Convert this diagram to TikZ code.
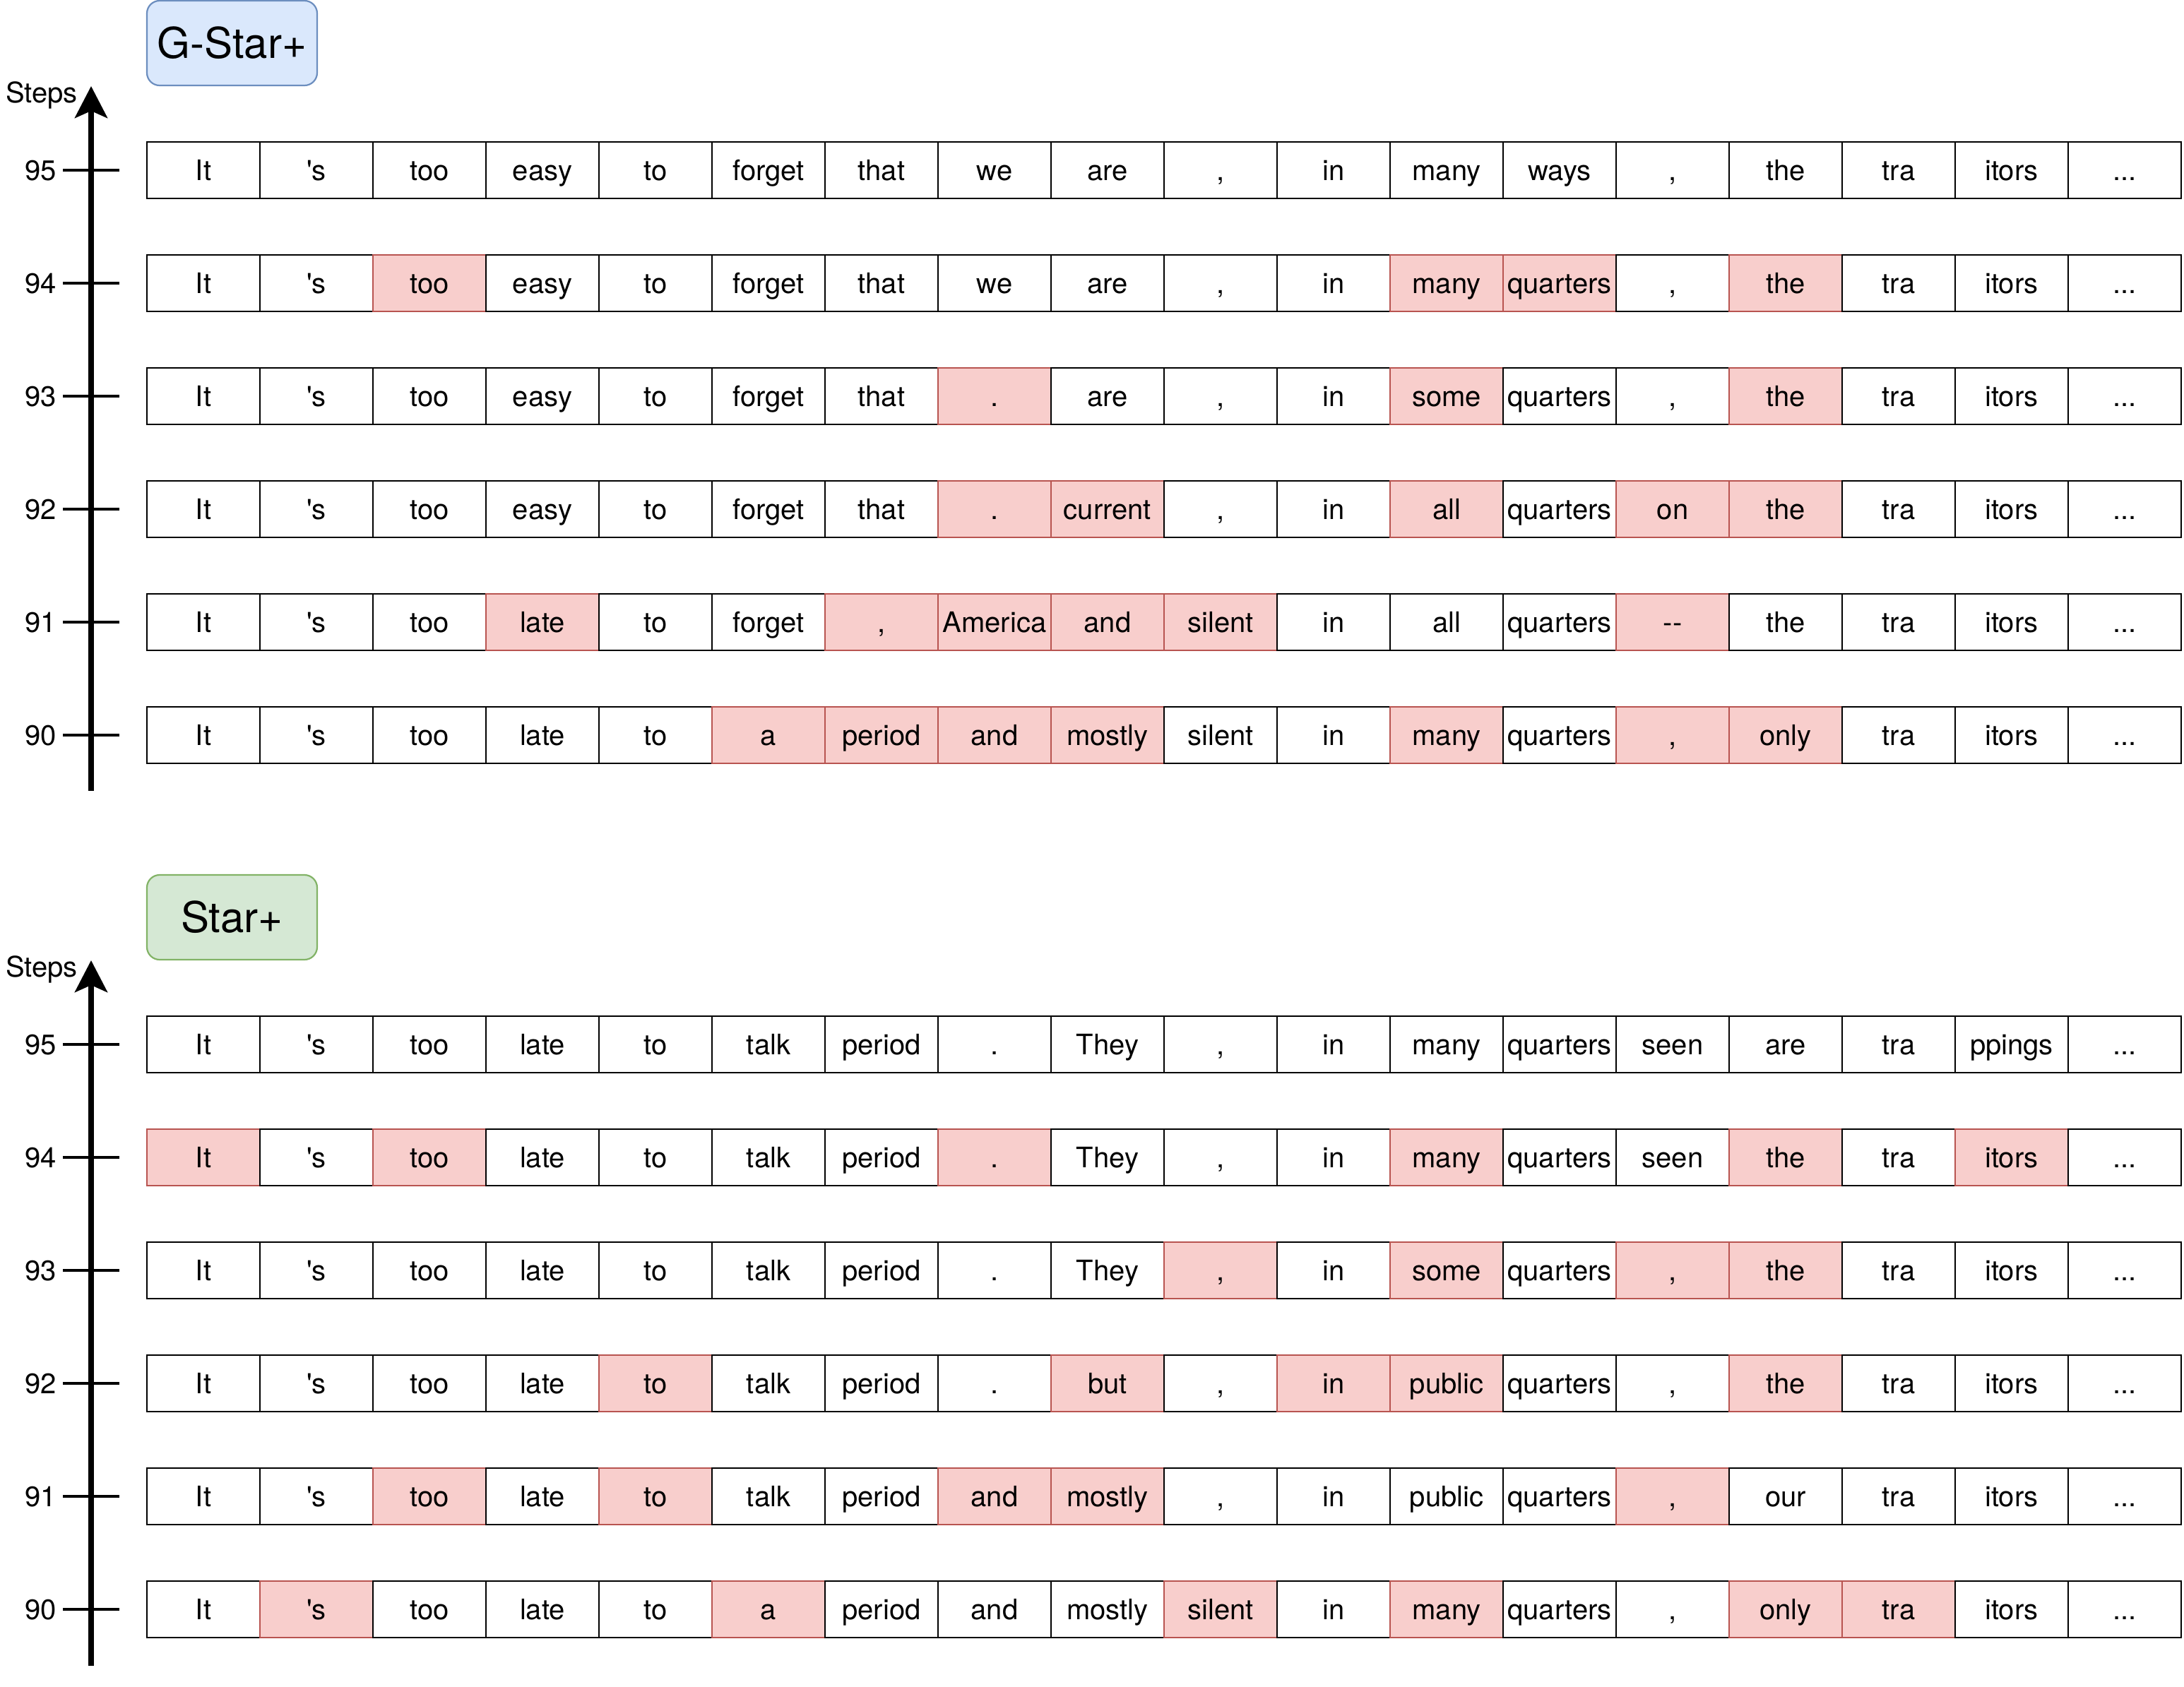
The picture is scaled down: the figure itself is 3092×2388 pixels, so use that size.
\documentclass[tikz,border=0pt]{standalone}
\usepackage{fontspec}
\setmainfont{TeX Gyre Heros}
\usetikzlibrary{arrows.meta}
\definecolor{rfill}{HTML}{F8CECC}
\definecolor{rline}{HTML}{B85450}
\definecolor{bfill}{HTML}{DAE8FC}
\definecolor{bline}{HTML}{6C8EBF}
\definecolor{gfill}{HTML}{D5E8D4}
\definecolor{gline}{HTML}{82B366}
\newcommand{\qs}{\textquotesingle s}
\newcommand{\tdots}{...}
\newcommand{\dblhy}{-{}-}
\tikzset{
  tokcell/.style={minimum width=160pt, minimum height=80pt, inner sep=0pt,
    text height=29pt, text depth=0pt, line width=2.2pt,
    font=\fontsize{40}{48}\selectfont},
  numlab/.style={anchor=east, inner sep=0pt, text height=29pt, text depth=0pt,
    font=\fontsize{40}{48}\selectfont},
  steplab/.style={anchor=base west, inner sep=0pt, font=\fontsize{40}{48}\selectfont},
  titlebox/.style={minimum width=241pt, minimum height=120pt, inner sep=0pt,
    rounded corners=18pt, line width=2.2pt, text height=43pt, text depth=0pt,
    font=\fontsize{60}{72}\selectfont},
  tick/.style={line width=4pt},
  axis/.style={line width=7.5pt, -{Stealth[length=45pt, width=46pt, inset=10pt]}},
}
\newcommand{\tokrow}[3]{%
  \foreach \k/\w [count=\i] in {#3} {%
    \ifnum\k=1 \def\cellfill{rfill}\def\cellline{rline}\else\def\cellfill{white}\def\cellline{black}\fi
    \node[tokcell, fill=\cellfill, draw=\cellline] (#1c\i) at ({288+160*(\i-1)}, #2) {\w};
  }%
}
\newcommand{\steptick}[3]{%
  \node[numlab] (#1n) at (80,#2) {#3};
  \coordinate (#1l) at (89,#2);
  \coordinate (#1r) at (169,#2);
  \draw[tick] (#1l) -- (#1r);
}
\begin{document}
\begin{tikzpicture}[x=1pt, y=-1pt]
\useasboundingbox (0,0) rectangle (3092,2388);
\fill[white] (0,0) rectangle (3092,2388);

% ---------- G-Star+ ----------
\node[titlebox, fill=bfill, draw=bline] (gtitle) at (328.5,61) {G-Star+};
\coordinate (abot) at (129,1120);
\coordinate (atop) at (129,122);
\draw[axis] (abot) -- (atop);
\node[steplab] (asteps) at (8,145) {Steps};
\steptick{a95}{241}{95}
\steptick{a94}{401}{94}
\steptick{a93}{561}{93}
\steptick{a92}{721}{92}
\steptick{a91}{881}{91}
\steptick{a90}{1041}{90}

\tokrow{a95}{241}{0/It,0/\qs,0/too,0/easy,0/to,0/forget,0/that,0/we,0/are,0/{,},0/in,0/many,0/ways,0/{,},0/the,0/tra,0/itors,0/\tdots}
\tokrow{a94}{401}{0/It,0/\qs,1/too,0/easy,0/to,0/forget,0/that,0/we,0/are,0/{,},0/in,1/many,1/quarters,0/{,},1/the,0/tra,0/itors,0/\tdots}
\tokrow{a93}{561}{0/It,0/\qs,0/too,0/easy,0/to,0/forget,0/that,1/.,0/are,0/{,},0/in,1/some,0/quarters,0/{,},1/the,0/tra,0/itors,0/\tdots}
\tokrow{a92}{721}{0/It,0/\qs,0/too,0/easy,0/to,0/forget,0/that,1/.,1/current,0/{,},0/in,1/all,0/quarters,1/on,1/the,0/tra,0/itors,0/\tdots}
\tokrow{a91}{881}{0/It,0/\qs,0/too,1/late,0/to,0/forget,1/{,},1/America,1/and,1/silent,0/in,0/all,0/quarters,1/\dblhy,0/the,0/tra,0/itors,0/\tdots}
\tokrow{a90}{1041}{0/It,0/\qs,0/too,0/late,0/to,1/a,1/period,1/and,1/mostly,0/silent,0/in,1/many,0/quarters,1/{,},1/only,0/tra,0/itors,0/\tdots}

% ---------- Star+ ----------
\node[titlebox, fill=gfill, draw=gline] (stitle) at (328.5,1299) {Star+};
\coordinate (bbot) at (129,2359);
\coordinate (btop) at (129,1360);
\draw[axis] (bbot) -- (btop);
\node[steplab] (bsteps) at (8,1383) {Steps};
\steptick{b95}{1479}{95}
\steptick{b94}{1639}{94}
\steptick{b93}{1799}{93}
\steptick{b92}{1959}{92}
\steptick{b91}{2119}{91}
\steptick{b90}{2279}{90}

\tokrow{b95}{1479}{0/It,0/\qs,0/too,0/late,0/to,0/talk,0/period,0/.,0/They,0/{,},0/in,0/many,0/quarters,0/seen,0/are,0/tra,0/ppings,0/\tdots}
\tokrow{b94}{1639}{1/It,0/\qs,1/too,0/late,0/to,0/talk,0/period,1/.,0/They,0/{,},0/in,1/many,0/quarters,0/seen,1/the,0/tra,1/itors,0/\tdots}
\tokrow{b93}{1799}{0/It,0/\qs,0/too,0/late,0/to,0/talk,0/period,0/.,0/They,1/{,},0/in,1/some,0/quarters,1/{,},1/the,0/tra,0/itors,0/\tdots}
\tokrow{b92}{1959}{0/It,0/\qs,0/too,0/late,1/to,0/talk,0/period,0/.,1/but,0/{,},1/in,1/public,0/quarters,0/{,},1/the,0/tra,0/itors,0/\tdots}
\tokrow{b91}{2119}{0/It,0/\qs,1/too,0/late,1/to,0/talk,0/period,1/and,1/mostly,0/{,},0/in,0/public,0/quarters,1/{,},0/our,0/tra,0/itors,0/\tdots}
\tokrow{b90}{2279}{0/It,1/\qs,0/too,0/late,0/to,1/a,0/period,0/and,0/mostly,1/silent,0/in,1/many,0/quarters,0/{,},1/only,1/tra,0/itors,0/\tdots}
\end{tikzpicture}
\end{document}
